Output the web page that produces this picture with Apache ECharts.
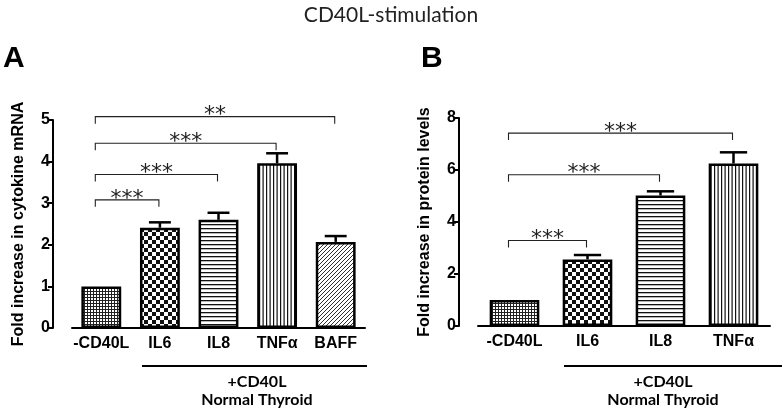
<!DOCTYPE html>
<html><head><meta charset="utf-8">
<script src="https://cdn.jsdelivr.net/npm/echarts@6/dist/echarts.min.js"></script>
<style>html,body{margin:0;padding:0;background:#fff}#c{width:782px;height:410px}</style>
</head><body><div id="c"></div>
<script>
// ---- data ----
const catsA = ['-CD40L', 'IL6', 'IL8', 'TNFα', 'BAFF'];
const meanA = [1.0, 2.41, 2.6, 3.96, 2.07];
const errTopA = [1.0, 2.54, 2.77, 4.2, 2.21];
const yTicksA = [0, 1, 2, 3, 4, 5];
const bracketsA = [[0, 1, 3.08, '***'], [0, 2, 3.69, '***'], [0, 3, 4.44, '***'], [0, 4, 5.08, '**']];

const catsB = ['-CD40L', 'IL6', 'IL8', 'TNFα'];
const meanB = [1.0, 2.56, 5.02, 6.25];
const errTopB = [1.0, 2.73, 5.18, 6.68];
const yTicksB = [0, 2, 4, 6, 8];
const bracketsB = [[0, 1, 3.29, '***'], [0, 2, 5.82, '***'], [0, 3, 7.42, '***']];

// ---- patterns ----
function tile(w, h, draw) {
  const c = document.createElement('canvas'); c.width = w; c.height = h;
  const g = c.getContext('2d'); g.fillStyle = '#fff'; g.fillRect(0, 0, w, h);
  g.fillStyle = '#111'; draw(g); return {image: c, repeat: 'repeat'};
}
const patFine = tile(3, 3, g => { g.fillStyle = '#222'; g.fillRect(0, 0, 3, 1); g.fillRect(0, 0, 1, 3); });
const patCheck = tile(8, 8, g => { g.fillRect(0, 0, 4, 4); g.fillRect(4, 4, 4, 4); });
const patHoriz = tile(4, 4, g => { g.fillRect(0, 0, 4, 1.3); });
const patVert = tile(7, 7, g => { g.fillRect(0, 0, 1.2, 7); g.fillRect(3.5, 0, 1.2, 7); });
const patDiag = tile(4, 4, g => { g.fillStyle = '#333'; g.fillRect(0, 3, 1, 1); g.fillRect(1, 2, 1, 1); g.fillRect(2, 1, 1, 1); g.fillRect(3, 0, 1, 1); });
const patternsA = [patFine, patCheck, patHoriz, patVert, patDiag];
const patternsB = [patFine, patCheck, patHoriz, patVert];

const FONT = "'Liberation Sans', Arial, sans-serif";
const BARW = 0.68;

function barSeries(idx, means, pats) {
  return {
    type: 'bar', xAxisIndex: idx, yAxisIndex: idx, barWidth: (BARW * 100) + '%', z: 3,
    data: means.map((v, i) => ({value: v, itemStyle: {color: pats[i], borderColor: '#000', borderWidth: 2.5}})),
    silent: true
  };
}
function errSeries(idx, means, tops) {
  return {
    type: 'custom', xAxisIndex: idx, yAxisIndex: idx, z: 4, silent: true,
    data: means.map((v, i) => [i, v, tops[i]]),
    renderItem(params, api) {
      const x = api.value(0), m = api.value(1), t = api.value(2);
      if (t - m < 0.001) return null;
      const p0 = api.coord([x, m]), p1 = api.coord([x, t]);
      const cap = api.size([1, 0])[0] * BARW * 0.55 / 2;
      return {type: 'group', children: [
        {type: 'line', shape: {x1: p0[0], y1: p0[1], x2: p1[0], y2: p1[1]}, style: {stroke: '#000', lineWidth: 2.5}},
        {type: 'line', shape: {x1: p1[0] - cap, y1: p1[1], x2: p1[0] + cap, y2: p1[1]}, style: {stroke: '#000', lineWidth: 2.5}}
      ]};
    }
  };
}
function bracketSeries(idx, brackets) {
  return {
    type: 'custom', xAxisIndex: idx, yAxisIndex: idx, z: 5, silent: true, clip: false,
    data: brackets.map(b => [b[0], b[1], b[2]]),
    renderItem(params, api) {
      const b = brackets[params.dataIndex];
      const p0 = api.coord([api.value(0), api.value(2)]), p1 = api.coord([api.value(1), api.value(2)]);
      const x0 = p0[0] - 6, x1 = p1[0] - 1, y = p0[1], leg = 7;
      return {type: 'group', children: [
        {type: 'polyline', shape: {points: [[x0, y + leg], [x0, y], [x1, y], [x1, y + leg]]}, style: {stroke: '#222', lineWidth: 1.1, fill: null}},
        {type: 'text', x: (x0 + x1) / 2, y: y - 1, style: {text: b[3], fill: '#222', font: "22px 'DejaVu Sans'", textAlign: 'center', textVerticalAlign: 'middle'}}
      ]};
    }
  };
}
function xAxis(idx, cats) {
  return {
    type: 'category', gridIndex: idx, data: cats,
    axisLine: {lineStyle: {color: '#000', width: 2}},
    axisTick: {alignWithLabel: true, length: 5, lineStyle: {color: '#000', width: 2}},
    axisLabel: {interval: 0, color: '#000', fontWeight: 'bold', fontSize: 16, fontFamily: FONT, margin: 8}
  };
}
function yAxis(idx, ticks, name) {
  return {
    type: 'value', gridIndex: idx, min: ticks[0], max: ticks[ticks.length - 1], interval: ticks[1] - ticks[0],
    offset: 19, name: name, nameLocation: 'middle', nameGap: 26,
    nameTextStyle: {color: '#000', fontWeight: 'bold', fontSize: 16, fontFamily: FONT},
    axisLine: {show: true, lineStyle: {color: '#000', width: 2}},
    axisTick: {show: true, length: 5, lineStyle: {color: '#000', width: 2}},
    axisLabel: {color: '#000', fontWeight: 'bold', fontSize: 16, fontFamily: FONT, margin: 3},
    splitLine: {show: false}
  };
}

const chart = echarts.init(document.getElementById('c'), null, {renderer: 'canvas'});
chart.setOption({
  animation: false,
  backgroundColor: '#fff',
  title: {text: 'CD40L-stimulation', left: 'center', top: 0, textStyle: {fontFamily: 'Lato, sans-serif', fontSize: 21, fontWeight: 'normal', color: '#222'}},
  grid: [
    {left: 72, right: 417, top: 120, bottom: 82},
    {left: 478, right: 12, top: 118, bottom: 84}
  ],
  xAxis: [xAxis(0, catsA), xAxis(1, catsB)],
  yAxis: [yAxis(0, yTicksA, 'Fold increase in cytokine mRNA'), yAxis(1, yTicksB, 'Fold increase in protein levels')],
  series: [
    barSeries(0, meanA, patternsA), errSeries(0, meanA, errTopA), bracketSeries(0, bracketsA),
    barSeries(1, meanB, patternsB), errSeries(1, meanB, errTopB), bracketSeries(1, bracketsB)
  ],
  graphic: [
    {type: 'text', left: 3, top: 44, style: {text: 'A', font: "bold 30px 'Liberation Sans'", fill: '#000'}},
    {type: 'text', left: 421, top: 44, style: {text: 'B', font: "bold 30px 'Liberation Sans'", fill: '#000'}},
    {type: 'line', shape: {x1: 142, y1: 366, x2: 367, y2: 366}, style: {stroke: '#000', lineWidth: 2}},
    {type: 'line', shape: {x1: 564, y1: 366, x2: 782, y2: 366}, style: {stroke: '#000', lineWidth: 2}},
    {type: 'text', x: 257, y: 382, style: {text: '+CD40L', font: 'bold 16px Lato', fill: '#000', textAlign: 'center', textVerticalAlign: 'middle'}},
    {type: 'text', x: 257, y: 400, style: {text: 'Normal Thyroid', font: 'bold 16px Lato', fill: '#000', textAlign: 'center', textVerticalAlign: 'middle'}},
    {type: 'text', x: 663, y: 382, style: {text: '+CD40L', font: 'bold 16px Lato', fill: '#000', textAlign: 'center', textVerticalAlign: 'middle'}},
    {type: 'text', x: 663, y: 400, style: {text: 'Normal Thyroid', font: 'bold 16px Lato', fill: '#000', textAlign: 'center', textVerticalAlign: 'middle'}}
  ]
});
</script></body></html>
